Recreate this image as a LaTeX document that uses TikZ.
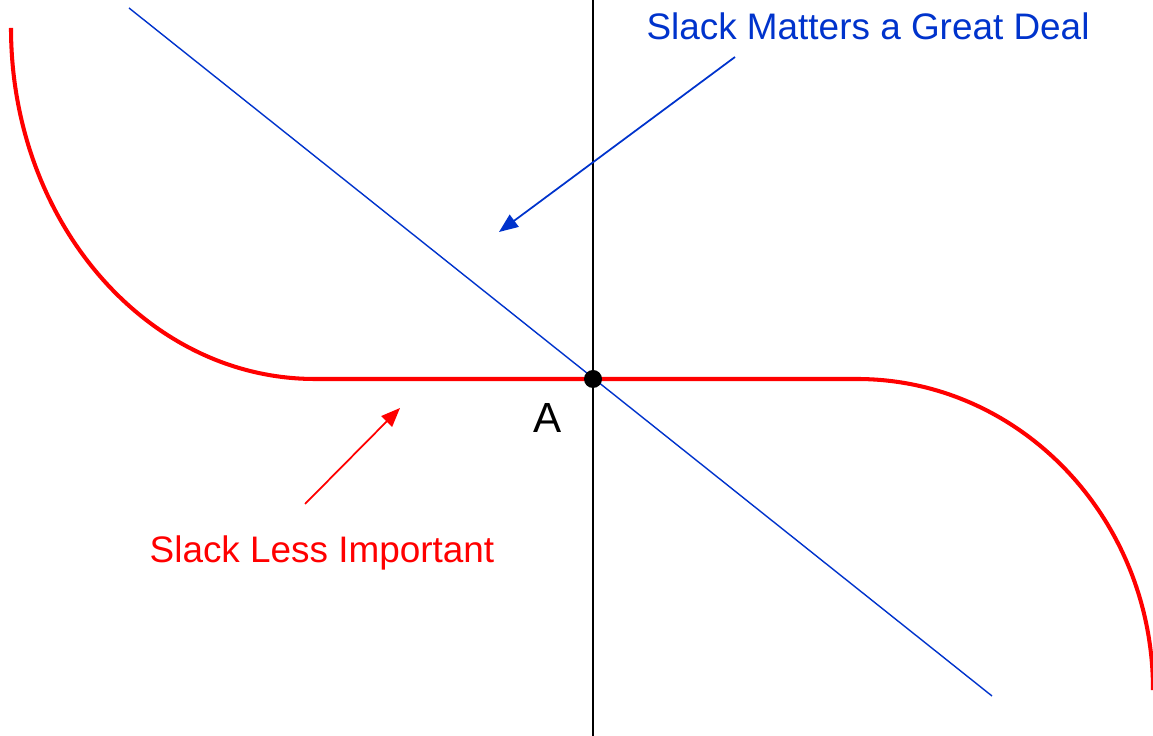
\documentclass[tikz,border=0pt]{standalone}
\usepackage{fontspec}
\setmainfont{Liberation Sans}
\usetikzlibrary{arrows.meta}
\definecolor{slackblue}{RGB}{0,51,204}
\begin{document}
\begin{tikzpicture}[
    axis/.style={draw=black, line width=0.9pt},
    curve/.style={draw=red, line width=2.3pt},
    lineB/.style={draw=slackblue, line width=0.8pt},
    pointer/.style={line width=1pt, -{Triangle[length=0.38cm, width=0.3cm]}},
    lbl/.style={font=\fontsize{21}{25}\selectfont, inner sep=0pt}]

    \useasboundingbox (0,0) rectangle (23.06,14.72);

    % Asse verticale e retta
    \draw[axis] (11.86,0) -- (11.86,14.72);
    \coordinate (b1) at (2.58,14.56);
    \coordinate (b2) at (19.84,0.80);
    \draw[lineB] (b1) -- (b2);

    % Curva rossa
    \draw[curve] (0.22,14.16) .. controls (0.22,10.28) and (2.94,7.14) .. (6.30,7.14)
        -- (17.14,7.14) .. controls (20.40,7.14) and (23.06,4.36) .. (23.06,0.92);

    % Punto A
    \node[circle, fill=black, minimum size=0.36cm, inner sep=0pt] (A) at (11.86,7.14) {};
    \node[font=\fontsize{24}{28}\selectfont] (Alab) at (10.96,6.36) {A};

    % Etichette
    \node[lbl, text=slackblue] (great) at (17.36,14.20) {Slack Matters a Great Deal};
    \coordinate (gs) at (14.70,13.58);
    \coordinate (ge) at (9.98,10.08);
    \draw[pointer, slackblue] (gs) -- (ge);

    \node[lbl, text=red] (less) at (6.44,3.66) {Slack Less Important};
    \coordinate (ls) at (6.10,4.64);
    \coordinate (le) at (8.00,6.56);
    \draw[pointer, red] (ls) -- (le);
  \end{tikzpicture}
\end{document}
